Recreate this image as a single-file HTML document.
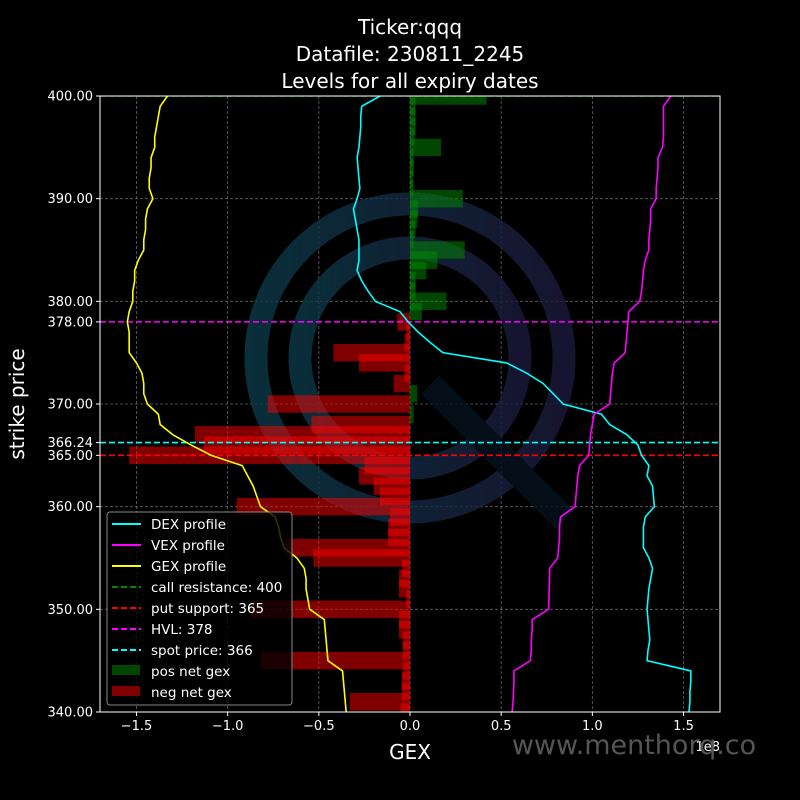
<!DOCTYPE html>
<html><head><meta charset="utf-8"><style>
html,body{margin:0;padding:0;background:#000;width:800px;height:800px;overflow:hidden}
svg text{font-family:"DejaVu Sans","Liberation Sans",sans-serif;fill:#fff}
</style></head><body>
<svg id="chart" width="800" height="800" xmlns="http://www.w3.org/2000/svg">
<defs>
<linearGradient id="wm" x1="0" x2="1" y1="0" y2="0"><stop offset="0" stop-color="#0c3a48"/><stop offset="1" stop-color="#1c1a3c"/></linearGradient>
<clipPath id="plotclip"><rect x="100" y="96" width="620" height="616"/></clipPath>
</defs>
<rect x="0" y="0" width="800" height="800" fill="#000"/>
<g text-anchor="middle" font-size="20">
<text x="410" y="34">Ticker:qqq</text>
<text x="410" y="61">Datafile: 230811_2245</text>
<text x="410" y="88">Levels for all expiry dates</text>
</g>
<g id="grid"></g>
<g opacity="0.8">
<circle cx="410" cy="358" r="154" fill="none" stroke="url(#wm)" stroke-width="23"/>
<circle cx="410" cy="358" r="110" fill="none" stroke="url(#wm)" stroke-width="23"/>
<line x1="430" y1="385" x2="565" y2="520" stroke="#06121e" stroke-width="26"/>
</g>
<g clip-path="url(#plotclip)">
<g id="bars"></g>
<g id="levels"></g>
<g id="lines"></g>
</g>
<rect x="100" y="96" width="620" height="616" fill="none" stroke="#fff" stroke-width="1"/>
<g id="ticks"></g>
<text x="24" y="404" font-size="20" text-anchor="middle" transform="rotate(-90 24 404)">strike price</text>
<text x="410" y="759" font-size="20" text-anchor="middle">GEX</text>
<text x="720" y="751" font-size="13" text-anchor="end">1e8</text>
<text x="634" y="754" font-size="27" text-anchor="middle" style="fill:#555">www.menthorq.co</text>
<g>
<rect x="107" y="512" width="185" height="193" rx="3" fill="#000" fill-opacity="0.8" stroke="#888" stroke-width="1"/>
<g font-size="13.5">
<line x1="112" y1="524" x2="141" y2="524" stroke="#0ff" stroke-width="2"/><text x="151" y="529">DEX profile</text>
<line x1="112" y1="545" x2="141" y2="545" stroke="#f0f" stroke-width="2"/><text x="151" y="550">VEX profile</text>
<line x1="112" y1="566" x2="141" y2="566" stroke="#ff0" stroke-width="2"/><text x="151" y="571">GEX profile</text>
<line x1="112" y1="587" x2="141" y2="587" stroke="#080" stroke-width="2" stroke-dasharray="6,3"/><text x="151" y="592">call resistance: 400</text>
<line x1="112" y1="608" x2="141" y2="608" stroke="#f00" stroke-width="2" stroke-dasharray="6,3"/><text x="151" y="613">put support: 365</text>
<line x1="112" y1="629" x2="141" y2="629" stroke="#f0f" stroke-width="2" stroke-dasharray="6,3"/><text x="151" y="634">HVL: 378</text>
<line x1="112" y1="650" x2="141" y2="650" stroke="#0ff" stroke-width="2" stroke-dasharray="6,3"/><text x="151" y="655">spot price: 366</text>
<rect x="112" y="665" width="28" height="10" fill="#004600"/><text x="151" y="676">pos net gex</text>
<rect x="112" y="686" width="28" height="10" fill="#800000"/><text x="151" y="697">neg net gex</text>
</g>
</g>
</svg>
<script>
const strikes = [400,399,398,397,396,395,394,393,392,391,390,389,388,387,386,385,384,383,382,381,380,379,378,377,376,375,374,373,372,371,370,369,368,367,366,365,364,363,362,361,360,359,358,357,356,355,354,353,352,351,350,349,348,347,346,345,344,343,342,341,340];
const gexBars = [0.42,0.03,0.03,0.03,0.025,0.17,0.02,0.02,0.015,0.02,0.29,0.045,0.04,0.03,0.02,0.30,0.15,0.09,0.03,0.03,0.20,0.065,-0.07,-0.02,-0.03,-0.42,-0.28,-0.03,-0.09,0.04,-0.78,0.02,-0.54,-1.18,-1.13,-1.54,-0.25,-0.28,-0.2,-0.165,-0.95,-0.11,-0.12,-0.12,-0.68,-0.53,-0.045,-0.06,-0.06,-0.02,-0.87,-0.06,-0.06,-0.04,-0.04,-0.82,-0.04,-0.045,-0.045,-0.33,-0.05];
const dexProfile = [-0.164,-0.265,-0.27,-0.27,-0.275,-0.28,-0.29,-0.285,-0.28,-0.275,-0.29,-0.31,-0.3,-0.29,-0.28,-0.28,-0.28,-0.29,-0.265,-0.23,-0.19,-0.055,-0.01,0.045,0.11,0.18,0.53,0.64,0.73,0.785,0.84,1.05,1.095,1.19,1.25,1.27,1.31,1.30,1.33,1.335,1.34,1.29,1.28,1.28,1.28,1.31,1.33,1.32,1.31,1.305,1.30,1.305,1.31,1.315,1.305,1.30,1.54,1.54,1.535,1.535,1.53];
const vexProfile = [1.43,1.39,1.39,1.39,1.39,1.385,1.36,1.36,1.355,1.35,1.35,1.32,1.32,1.315,1.31,1.31,1.29,1.28,1.275,1.27,1.26,1.20,1.195,1.19,1.185,1.18,1.12,1.11,1.105,1.10,1.095,1.01,1.00,0.99,0.985,0.98,0.93,0.92,0.915,0.91,0.905,0.825,0.82,0.82,0.815,0.81,0.766,0.765,0.763,0.762,0.76,0.67,0.67,0.665,0.665,0.66,0.57,0.57,0.568,0.565,0.56];
const gexProfile = [-1.33,-1.37,-1.38,-1.39,-1.40,-1.40,-1.42,-1.42,-1.43,-1.43,-1.41,-1.44,-1.45,-1.45,-1.46,-1.46,-1.49,-1.51,-1.51,-1.52,-1.52,-1.54,-1.55,-1.54,-1.54,-1.54,-1.50,-1.47,-1.46,-1.46,-1.44,-1.38,-1.37,-1.30,-1.20,-1.09,-0.92,-0.89,-0.86,-0.84,-0.82,-0.74,-0.72,-0.71,-0.69,-0.62,-0.58,-0.57,-0.57,-0.56,-0.55,-0.47,-0.465,-0.46,-0.455,-0.45,-0.37,-0.365,-0.36,-0.355,-0.35];
const xTicks = [-1.5,-1.0,-0.5,0.0,0.5,1.0,1.5];
const xTickLabels = ["\u22121.5","\u22121.0","\u22120.5","0.0","0.5","1.0","1.5"];
const yTicks = [340,350,360,365,366.24,370,378,380,390,400];
const gridY = [340,350,360,370,380,390,400];
const levelValues = [400,365,378,366.24];
const levelNames = ["call-resistance-line","put-support-line","hvl-line","spot-price-line"];
const levelColors = ["#008000","#ff0000","#ff00ff","#00ffff"];

const NS="http://www.w3.org/2000/svg";
const X0=100,X1=720,Y0=96,Y1=712,XMIN=-1.7,XMAX=1.7,YMIN=340,YMAX=400;
function xs(v){return X0+(v-XMIN)/(XMAX-XMIN)*(X1-X0);}
function ys(s){return Y0+(YMAX-s)/(YMAX-YMIN)*(Y1-Y0);}
function mk(tag,attrs,parent){const e=document.createElementNS(NS,tag);for(const k in attrs)e.setAttribute(k,attrs[k]);parent.appendChild(e);return e;}

const grid=document.getElementById('grid');
xTicks.forEach(v=>{const l=mk('line',{x1:xs(v),x2:xs(v),y1:Y0,y2:Y1,stroke:'#666','stroke-width':0.8,'stroke-dasharray':'3,2'},grid);

});
gridY.forEach(v=>{const l=mk('line',{x1:X0,x2:X1,y1:ys(v),y2:ys(v),stroke:'#666','stroke-width':0.8,'stroke-dasharray':'3,2'},grid);

});

const bars=document.getElementById('bars');
const half=0.85;
strikes.forEach((s,i)=>{const v=gexBars[i];
const r=mk('rect',{x:Math.min(xs(0),xs(v)),y:ys(s+half),width:Math.abs(xs(v)-xs(0)),height:ys(s-half)-ys(s+half),fill:v>=0?'#008c00':'#ff0000','fill-opacity':0.5},bars);

});

const levels=document.getElementById('levels');
levelValues.forEach((v,i)=>{const l=mk('line',{x1:X0,x2:X1,y1:ys(v),y2:ys(v),stroke:levelColors[i],'stroke-width':1.6,'stroke-dasharray':'6,3'},levels);

});

const lines=document.getElementById('lines');
function prof(arr,color,name){const p=mk('polyline',{points:arr.map((v,i)=>xs(v)+','+ys(strikes[i])).join(' '),fill:'none',stroke:color,'stroke-width':1.6},lines);

}
prof(gexProfile,'#ffff00','gex-profile-line');
prof(dexProfile,'#00ffff','dex-profile-line');
prof(vexProfile,'#ff00ff','vex-profile-line');

const ticks=document.getElementById('ticks');
xTicks.forEach((v,i)=>{mk('line',{x1:xs(v),x2:xs(v),y1:Y1,y2:Y1+4,stroke:'#fff'},ticks);
const t=mk('text',{x:xs(v),y:Y1+18,'font-size':13,'text-anchor':'middle'},ticks);t.textContent=xTickLabels[i];

});
yTicks.forEach(v=>{mk('line',{x1:X0-4,x2:X0,y1:ys(v),y2:ys(v),stroke:'#fff'},ticks);
const t=mk('text',{x:X0-7,y:ys(v)+4.5,'font-size':13,'text-anchor':'end'},ticks);t.textContent=v.toFixed(2);

});
</script>
</body></html>
